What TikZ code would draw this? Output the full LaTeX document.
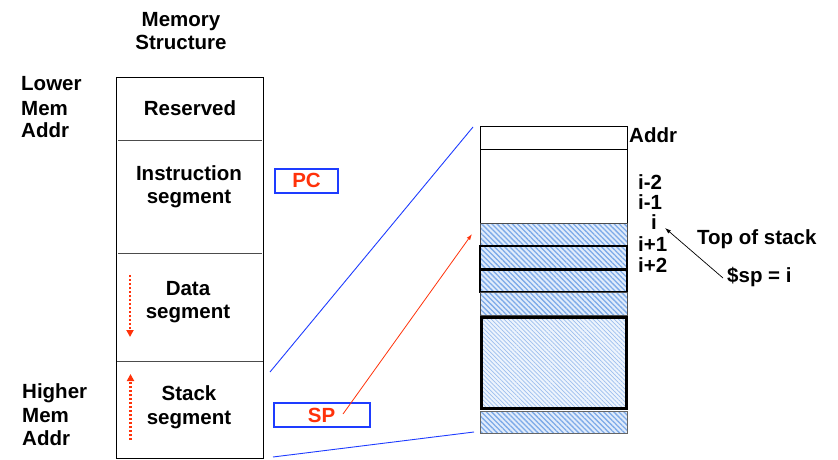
\documentclass[tikz,border=0pt]{standalone}
\usepackage{fontspec}
\setmainfont{Liberation Sans}
\usetikzlibrary{arrows.meta,patterns.meta}
\definecolor{myred}{RGB}{255,50,10}
\definecolor{myblue}{RGB}{30,60,255}
\definecolor{hatch}{RGB}{125,170,232}
\definecolor{hatchbg}{RGB}{225,236,251}
\begin{document}
\begin{tikzpicture}[x=1pt,y=-1pt,
  every node/.style={font=\fontsize{20.5}{24}\selectfont\bfseries, inner sep=0pt},
  lbl/.style={anchor=base},
  lblw/.style={anchor=base west},
  divider/.style={line width=1pt, black!70},
  hatchrow/.style={preaction={fill=hatchbg}, pattern={Lines[angle=-45,distance=3.6pt,line width=1.3pt]}, pattern color=hatch},
  hatchlight/.style={preaction={fill=hatchbg!60}, pattern={Lines[angle=-45,distance=3pt,line width=0.7pt]}, pattern color=hatch!75},
  regbox/.style={draw=myblue, line width=2pt, text=myred, minimum height=24pt},
  growarrow/.style={myred, line width=2.2pt, dash pattern=on 2pt off 2pt, -{Triangle[length=7pt,width=7pt]}},
  zoomline/.style={myblue, line width=0.9pt}
]
\useasboundingbox (0,0) rectangle (838,460);

% titles
\node[lbl] (t1) at (181,27) {Memory};
\node[lbl] (t2) at (181,50) {Structure};
\node[lblw] (lo1) at (21,90) {Lower};
\node[lblw] (lo2) at (21,115) {Mem};
\node[lblw] (lo3) at (21,137) {Addr};
\node[lblw] (hi1) at (22,398) {Higher};
\node[lblw] (hi2) at (22,422) {Mem};
\node[lblw] (hi3) at (22,445) {Addr};

% memory column
\draw[line width=1pt] (116.5,78) rectangle (263.5,458);
\draw[divider] (118,140) -- (262,140);
\draw[divider] (118,253) -- (262,253);
\draw[divider] (117,361) -- (263,361);
\node[lbl] (res) at (190,115) {Reserved};
\node[lbl] (ins1) at (189,180) {Instruction};
\node[lbl] (ins2) at (189,203) {segment};
\node[lbl] (dat1) at (188,295) {Data};
\node[lbl] (dat2) at (188,318) {segment};
\node[lbl] (stk1) at (189,400) {Stack};
\node[lbl] (stk2) at (189,424) {segment};

\coordinate (dA) at (130,275);
\coordinate (dB) at (130,337);
\coordinate (sA) at (130.5,440);
\coordinate (sB) at (130.5,374);
\draw[growarrow] (dA) -- (dB);
\draw[growarrow] (sA) -- (sB);

% registers
\node[regbox, minimum width=63pt] (pc) at (306.5,180.5) {PC};
\node[regbox, minimum width=96pt] (sp) at (321.5,415) {SP};

% stack detail
\draw[line width=1pt] (480,126) rectangle (627,223);
\draw[line width=1pt] (480,149) -- (627,149);
\draw[hatchrow, draw=black!70, line width=1pt] (480,223) rectangle (627,246);
\draw[hatchrow, draw=black, line width=1.8pt] (480,246) rectangle (627,269);
\draw[hatchrow, draw=black, line width=1.8pt] (480,270) rectangle (627,292);
\draw[hatchrow, draw=black!70, line width=1pt] (480,292) rectangle (627,315);
\draw[hatchlight, draw=black, line width=3pt] (481.5,317.5) rectangle (626,408);
\draw[hatchrow, draw=black!60, line width=0.8pt] (480,411) rectangle (627,433);

\node[lblw] (addr) at (629,142) {Addr};
\node[lblw] (im2) at (638,189) {i-2};
\node[lblw] (im1) at (638,209) {i-1};
\node[lbl] (ii) at (654,229) {i};
\node[lblw] (ip1) at (638,251) {i+1};
\node[lblw] (ip2) at (638,272) {i+2};
\node[lblw] (tos) at (697,244) {Top of stack};
\node[lblw] (spi) at (727,282) {\$sp = i};

% connectors
\coordinate (zA1) at (270,372);
\coordinate (zA2) at (473,127);
\coordinate (zB1) at (273,457);
\coordinate (zB2) at (474,432);
\draw[zoomline] (zA1) -- (zA2);
\draw[zoomline] (zB1) -- (zB2);
\coordinate (spsrc) at (343,414);
\coordinate (spdst) at (472,234);
\draw[myred, line width=0.8pt, -{Latex[length=6pt,width=4pt]}] (spsrc) -- (spdst);
\coordinate (tosA) at (723,278);
\coordinate (tosB) at (665,228);
\draw[line width=0.7pt, -{Latex[length=6pt,width=4pt]}] (tosA) -- (tosB);
\end{tikzpicture}
\end{document}
